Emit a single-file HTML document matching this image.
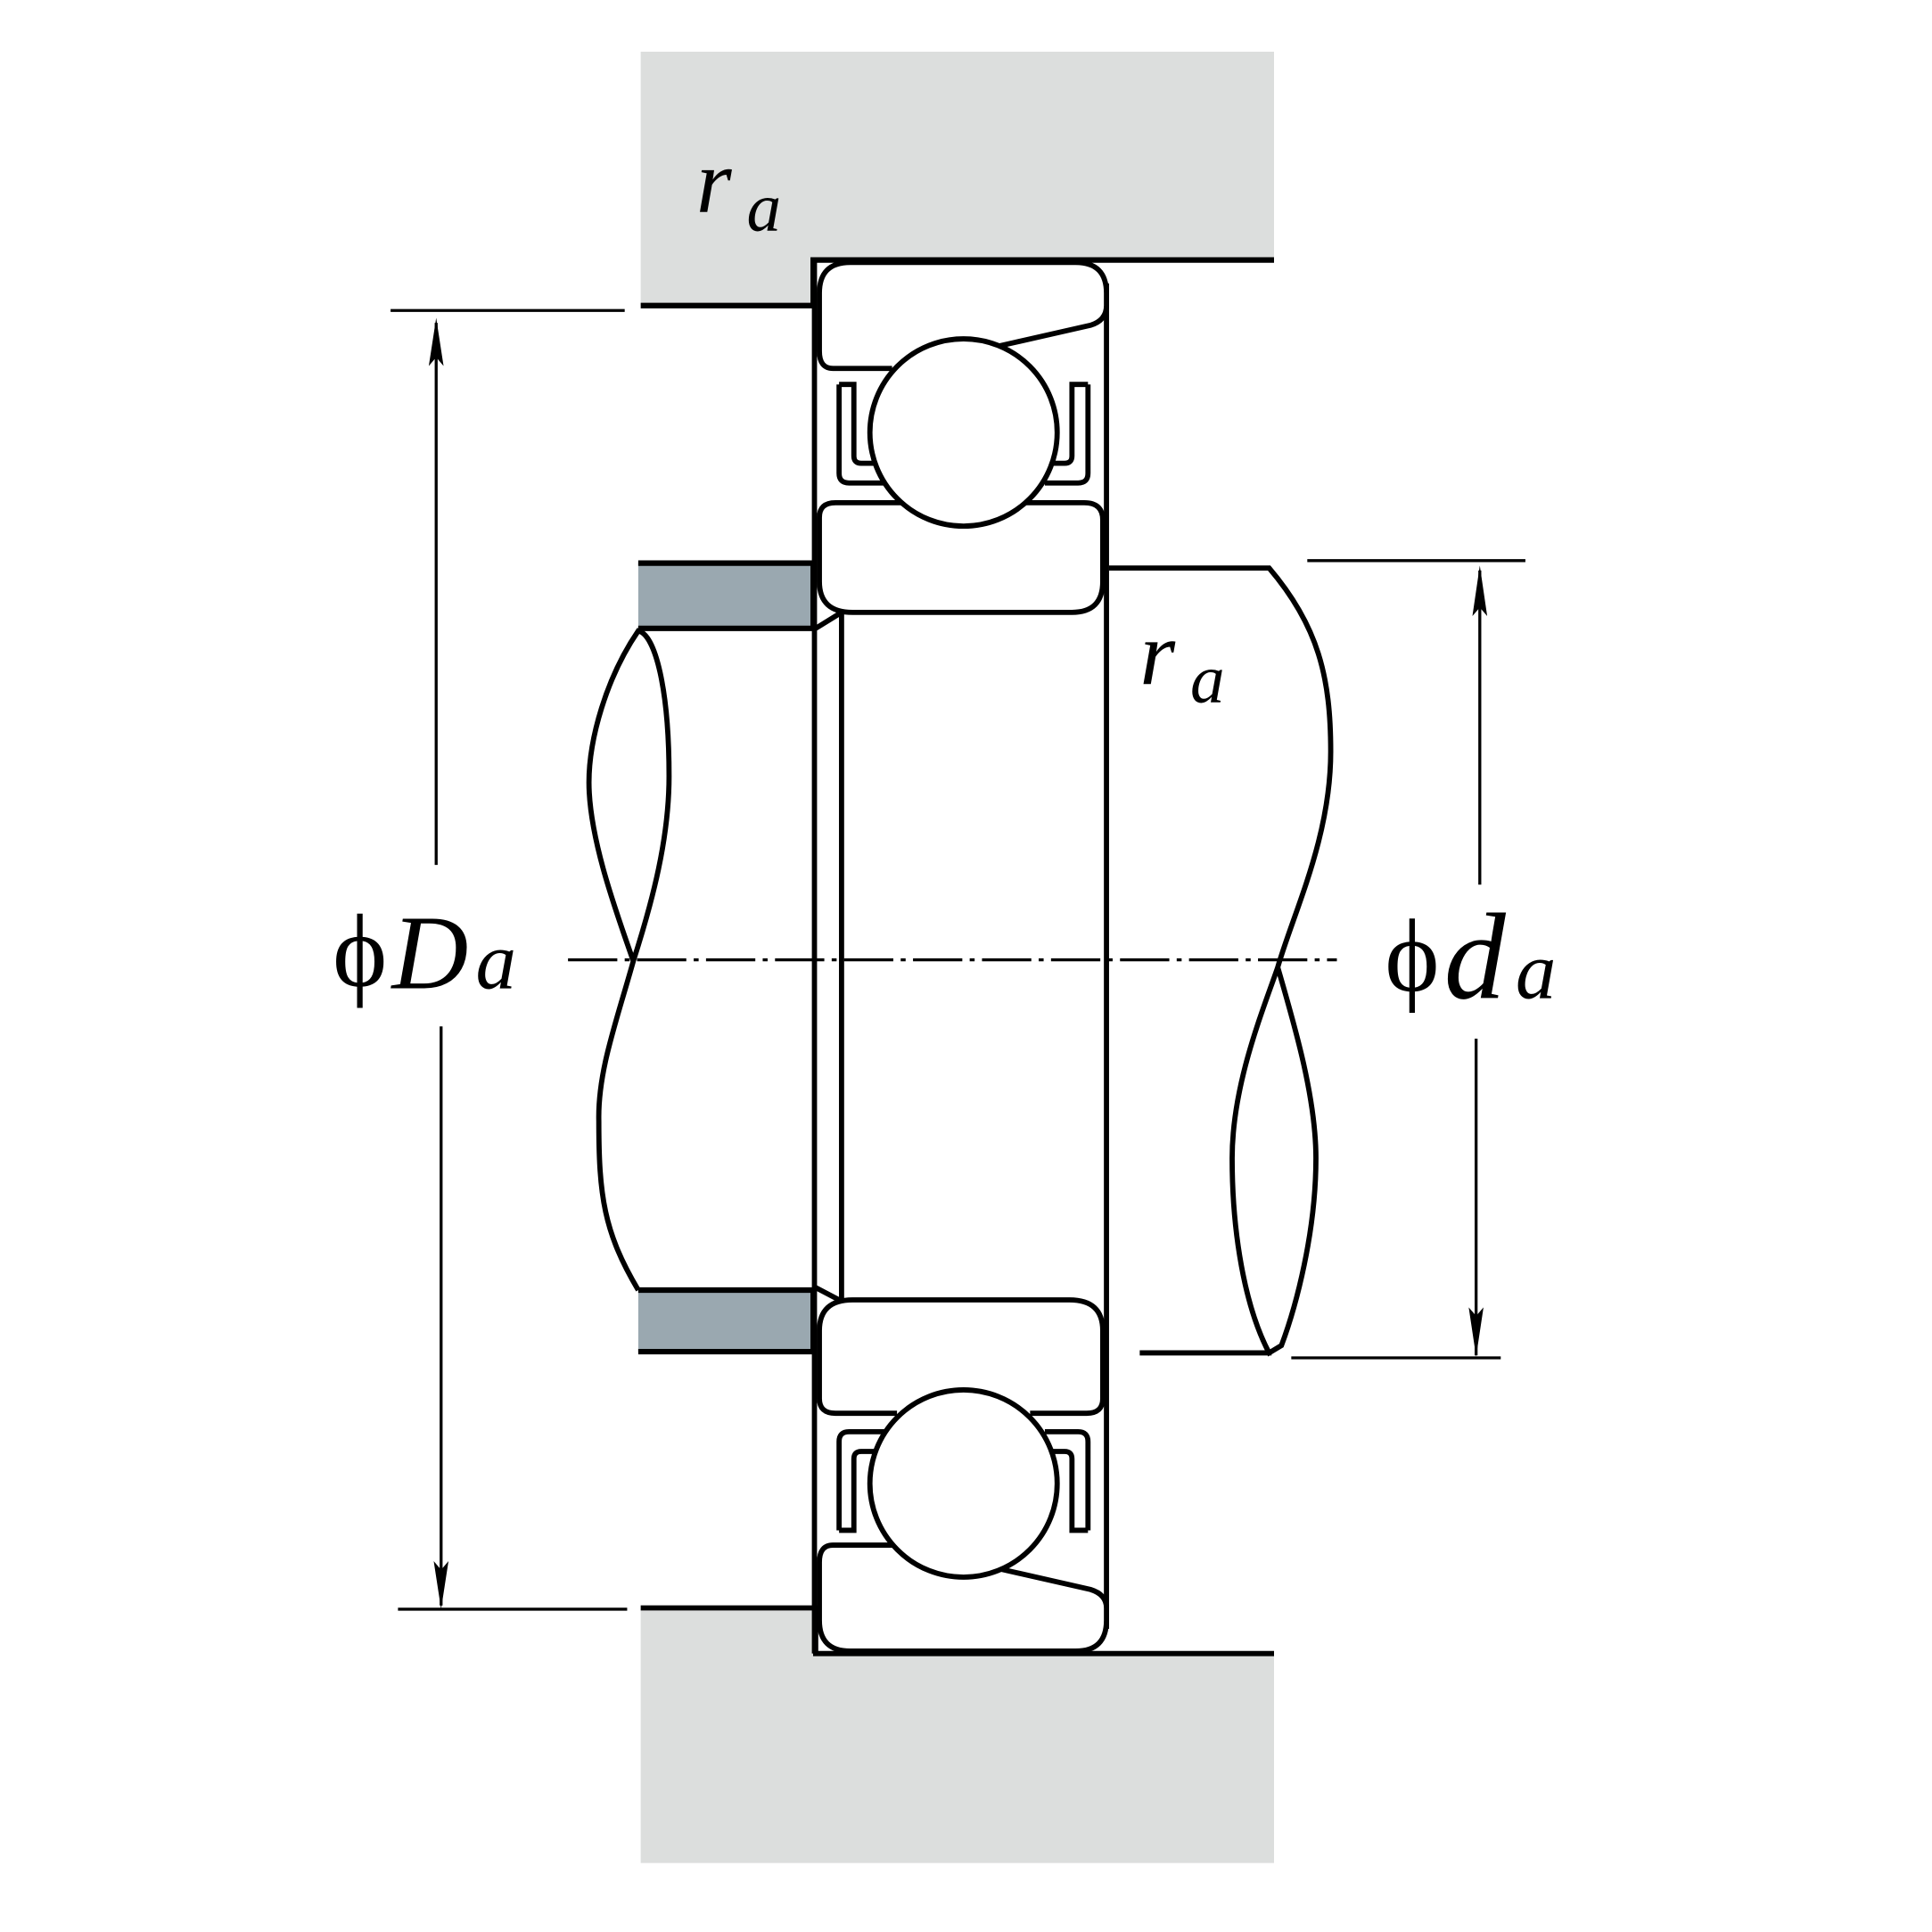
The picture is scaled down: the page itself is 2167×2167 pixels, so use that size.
<!DOCTYPE html>
<html><head><style>html,body{margin:0;padding:0;background:#fff}svg{display:block}</style></head>
<body>
<svg width="2167" height="2167" viewBox="0 0 1568 1568" xmlns="http://www.w3.org/2000/svg">
<g fill="#dcdedd" stroke="none">
<polygon points="520,42 1034,42 1034,211 660,211 660,248 520,248"/>
<polygon points="520,1305 662,1305 662,1342 1034,1342 1034,1512 520,1512"/>
<rect x="518" y="457" width="142" height="53" fill="#9aa8b0"/>
<rect x="518" y="1047" width="142" height="50" fill="#9aa8b0"/>
</g>
<g fill="none" stroke="#000" stroke-width="4.2">
<path d="M1034,211 H660 V248 H520" stroke-width="4.5"/>
<path d="M520,1305 H662 V1342 H1034"/>
<path d="M518,457 H660 V510 H518" stroke-width="4.5"/>
<path d="M518,1047 H660 V1097 H518" stroke-width="4.5"/>
<path d="M662,510 L683,497 M662,1045 L683,1056"/>
<line x1="661" y1="211" x2="661" y2="1342"/>
<line x1="898" y1="230" x2="898" y2="1322"/>
<line x1="683" y1="497" x2="683" y2="1056"/>
<path d="M690,213 H873 Q898,213 898,238 V248 Q898,260 885,264 L810,281 M724,299 H676 Q665,299 665,285 V238 Q665,213 690,213" fill="#fff"/>
<path d="M690,408 H880 Q895,408 895,422 V472 Q895,497 870,497 H692 Q665,497 665,472 V420 Q665,408 678,408 H730" fill="#fff"/>
<path d="M681,312 H693 V370 Q693,376 699,376 H712 M681,312 V384 Q681,392 689,392 H718"/>
<path d="M883,312 H870 V370 Q870,376 864,376 H852 M883,312 V384 Q883,392 875,392 H848"/>
<circle cx="782" cy="351" r="76" fill="#fff"/>
<path d="M692,1055 H868 Q895,1055 895,1080 V1135 Q895,1147 882,1147 H836 M728,1147 H678 Q665,1147 665,1135 V1080 Q665,1055 692,1055" fill="#fff"/>
<path d="M681,1242 H693 V1184 Q693,1178 699,1178 H712 M681,1242 V1170 Q681,1162 689,1162 H718"/>
<path d="M883,1242 H870 V1184 Q870,1178 864,1178 H852 M883,1242 V1170 Q883,1162 875,1162 H848"/>
<path d="M690,1340 H873 Q898,1340 898,1315 V1305 Q898,1294 885,1290 L810,1273 M724,1254 H676 Q665,1254 665,1268 V1315 Q665,1340 690,1340" fill="#fff"/>
<circle cx="782" cy="1204" r="76" fill="#fff"/>
<path d="M518,512 C492,550 478,600 478,635 C478,680 500,740 514,780 C530,730 543,680 543,630 C543,560 532,515 518,512 Z M514,780 C500,830 485,870 486,910 C486,970 490,1000 518,1047"/>
<path d="M900,461 H1030 C1070,508 1080,550 1080,610 C1080,680 1050,740 1037,785 C1050,830 1068,890 1068,940 C1068,1000 1052,1060 1040,1092 L1030,1098 C1010,1060 1000,1000 1000,940 C1000,880 1025,820 1037,785 M925,1098 H1032"/>
</g>
<g stroke="#000" stroke-width="2.4" fill="none">
<line x1="461" y1="779" x2="1085" y2="779" stroke-dasharray="40,6,4,6"/>
<line x1="317" y1="252" x2="507" y2="252"/>
<line x1="323" y1="1306" x2="509" y2="1306"/>
<line x1="354" y1="262" x2="354" y2="702"/>
<line x1="358" y1="833" x2="358" y2="1303"/>
<line x1="1061" y1="455" x2="1238" y2="455"/>
<line x1="1048" y1="1102" x2="1218" y2="1102"/>
<line x1="1201" y1="463" x2="1201" y2="718"/>
<line x1="1198" y1="843" x2="1198" y2="1100"/>
</g>
<g fill="#000">
<polygon points="354,258 348,297 354,290 360,297"/>
<polygon points="358,1306 352,1267 358,1274 364,1267"/>
<polygon points="1201,459 1195,500 1201,493 1207,500"/>
<polygon points="1198,1101 1192,1061 1198,1068 1204,1061"/>
</g>
<g font-family="Liberation Serif, serif" font-style="italic" fill="#000">
<text x="565" y="172" font-size="74">r</text>
<text x="606" y="187" font-size="56">a</text>
<text x="925" y="555" font-size="74">r</text>
<text x="966" y="570" font-size="56">a</text>
<text x="270" y="800" font-size="84" font-style="normal">ϕ</text>
<text x="318" y="802" font-size="86">D</text>
<text x="386" y="802" font-size="66">a</text>
<text x="1124" y="804" font-size="84" font-style="normal">ϕ</text>
<text x="1172" y="810" font-size="100">d</text>
<text x="1230" y="810" font-size="66">a</text>
</g>
</svg>
</body></html>
